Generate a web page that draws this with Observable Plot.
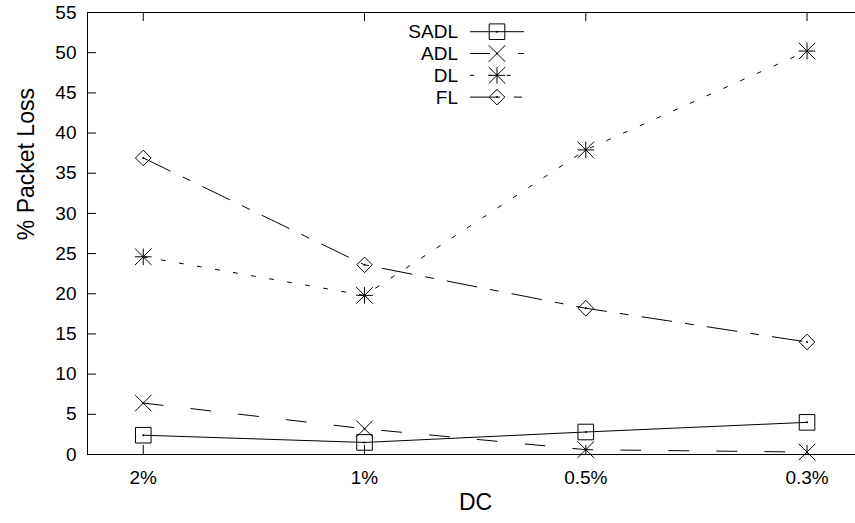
<!DOCTYPE html>
<html><head><meta charset="utf-8">
<script src="https://cdn.jsdelivr.net/npm/d3@7"></script>
<script src="https://cdn.jsdelivr.net/npm/@observablehq/plot@0.6"></script>
<style>html,body{margin:0;padding:0;background:#fff;overflow:hidden}</style>
</head><body><div id="chart"></div>
<script>
// ---- data ----
const categories = ["2%", "1%", "0.5%", "0.3%"];
const seriesNames = ["SADL", "ADL", "DL", "FL"];
const sadl = [2.4, 1.5, 2.8, 4.0];
const adl  = [6.4, 3.2, 0.6, 0.3];
const dl   = [24.6, 19.8, 37.9, 50.2];
const fl   = [36.9, 23.6, 18.2, 14.0];
const yTicks = [0, 5, 10, 15, 20, 25, 30, 35, 40, 45, 50, 55];
const xLabel = "DC";
const yLabel = "% Packet Loss";

// ---- styling / layout ----
const seriesValues = [sadl, adl, dl, fl];
const dashes = [undefined, "20,28", "4,14.3", "30,14,8,14"];
const radii = [7.8, 8.3, 8.3, 7.8];
const W = 855, H = 523, mL = 87, mR = 0, mT = 12, mB = 69;
const xDomain = [-0.252, 3.219];
const plotW = W - mL - mR, plotH = H - mT - mB;
const tickLen = 9;

function rad(size) { return Math.sqrt(size / Math.PI); }
const symSquare = {draw(c, s) { const r = rad(s); c.moveTo(-r, -r); c.lineTo(r, -r); c.lineTo(r, r); c.lineTo(-r, r); c.closePath(); }};
const symTimes = {draw(c, s) { const r = rad(s); c.moveTo(-r, -r); c.lineTo(r, r); c.moveTo(-r, r); c.lineTo(r, -r); }};
const symStar = {draw(c, s) { const r = rad(s); c.moveTo(-r, -r); c.lineTo(r, r); c.moveTo(-r, r); c.lineTo(r, -r); c.moveTo(-r, 0); c.lineTo(r, 0); c.moveTo(0, -r); c.lineTo(0, r); }};
const symDiamond = {draw(c, s) { const r = rad(s); c.moveTo(0, -r); c.lineTo(r, 0); c.lineTo(0, r); c.lineTo(-r, 0); c.closePath(); }};
const symbols = [symSquare, symTimes, symStar, symDiamond];

const catIdx = categories.map((_, i) => i);
const rows = seriesNames.flatMap((s, k) => seriesValues[k].map((v, i) => ({series: s, k, i, v})));

const chart = Plot.plot({
  width: W, height: H,
  marginLeft: mL, marginRight: mR, marginTop: mT, marginBottom: mB,
  style: {fontFamily: "'Liberation Sans', Arial, sans-serif", fontSize: "19px", color: "black", background: "white"},
  x: {domain: xDomain},
  y: {domain: [0, 55]},
  marks: [
    // frame (left, top, bottom)
    Plot.ruleY([0, 55], {stroke: "black"}),
    Plot.ruleX([xDomain[0]], {stroke: "black"}),
    // inward ticks
    Plot.tickY(yTicks, {y: d => d, insetRight: plotW - tickLen, stroke: "black"}),
    Plot.tickX(catIdx, {x: d => d, insetTop: plotH - tickLen, stroke: "black"}),
    Plot.tickX(catIdx, {x: d => d, insetBottom: plotH - tickLen, stroke: "black"}),
    // tick labels
    Plot.axisY({ticks: yTicks, tickSize: 0, tickPadding: 11, label: null}),
    Plot.axisX({ticks: catIdx, tickFormat: i => categories[i], tickSize: 0, tickPadding: 16, label: null}),
    // axis titles
    Plot.text([xLabel], {text: d => d, frameAnchor: "bottom", dy: 55.6, dx: 4, fontSize: 23, fill: "black"}),
    Plot.text([yLabel], {text: d => d, frameAnchor: "left", rotate: -90, dx: -61, dy: 6.7, fontSize: 23, fill: "black"}),
    // series lines
    ...seriesNames.map((s, k) => Plot.line(rows.filter(d => d.k === k), {x: "i", y: "v", stroke: "black", strokeWidth: 1, strokeDasharray: dashes[k]})),
    // markers
    ...seriesNames.map((s, k) => Plot.dot(rows.filter(d => d.k === k), {x: "i", y: "v", symbol: symbols[k], r: radii[k], stroke: "black", fill: "none", strokeWidth: 1})),
    Plot.dot(rows, {x: "i", y: "v", r: 1, fill: "black", stroke: null})
  ]
});

// ---- legend (top centre, inside plot) ----
const svg = d3.select(chart);
const lg = svg.append("g").attr("font-family", "'Liberation Sans', Arial, sans-serif").attr("font-size", 19);
const legY0 = 31.7, legStep = 21.8, textRight = 458, lx1 = 470, lx2 = 524, lmx = 497;
seriesNames.forEach((s, k) => {
  const y = legY0 + k * legStep;
  lg.append("text").attr("x", textRight).attr("y", y).attr("dy", "0.35em").attr("text-anchor", "end").attr("fill", "black").text(s);
  const ln = lg.append("line").attr("x1", lx1).attr("x2", lx2).attr("y1", y).attr("y2", y).attr("stroke", "black").attr("stroke-width", 1);
  if (dashes[k]) ln.attr("stroke-dasharray", dashes[k]);
  lg.append("path").attr("transform", `translate(${lmx},${y})`)
    .attr("d", d3.symbol(symbols[k], radii[k] * radii[k] * Math.PI)())
    .attr("fill", "none").attr("stroke", "black").attr("stroke-width", 1);
  lg.append("circle").attr("cx", lmx).attr("cy", y).attr("r", 1).attr("fill", "black");
});

document.getElementById("chart").appendChild(chart);
</script>
</body></html>
